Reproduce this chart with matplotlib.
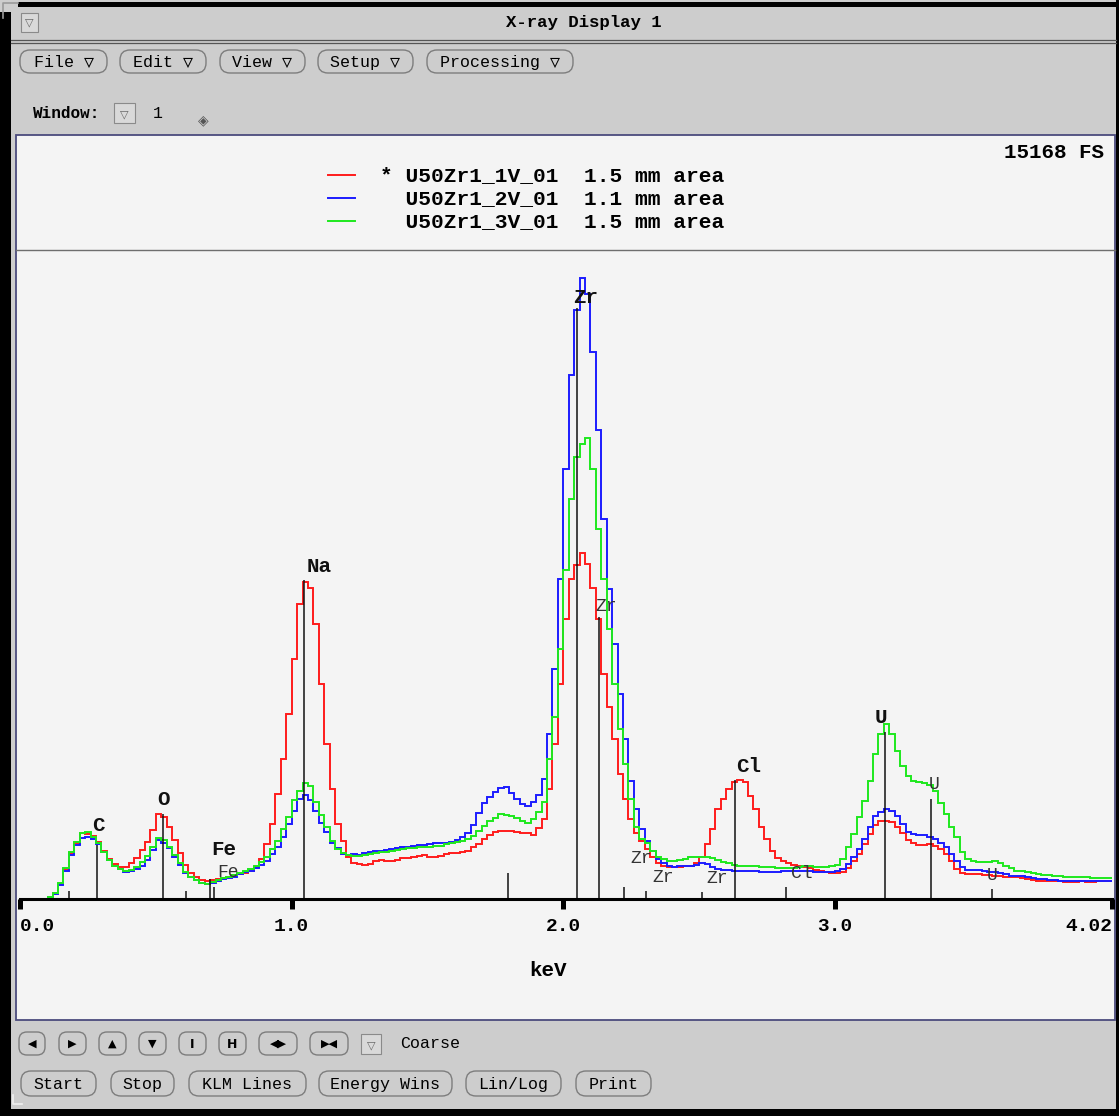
import numpy as np
import matplotlib.pyplot as plt
from matplotlib.patches import Rectangle, FancyBboxPatch

# spectra: counts per 0.02 keV channel, first channel starts at 0.10 keV
e_start = 0.10
e_step = 0.02
red = [50, 140, 350, 700, 1070, 1310, 1540, 1520, 1470, 1330,
       1120, 930, 820, 750, 750, 840, 960, 1140, 1330, 1610,
       1980, 1910, 1680, 1380, 1070, 790, 610, 510, 440, 420,
       440, 470, 490, 510, 560, 580, 610, 650, 750, 930,
       1280, 1750, 2450, 3270, 4320, 5600, 6890, 7420, 7280, 6420,
       5020, 3620, 2570, 1750, 1350, 980, 840, 820, 790, 820,
       890, 910, 890, 890, 910, 960, 960, 980, 1000, 1030,
       980, 980, 1000, 1050, 1070, 1070, 1100, 1120, 1210, 1280,
       1400, 1490, 1560, 1590, 1590, 1590, 1560, 1540, 1540, 1490,
       1660, 1870, 2570, 3620, 5020, 6540, 7470, 7800, 8080, 7820,
       7280, 6540, 5250, 4480, 3730, 2920, 2330, 1870, 1540, 1350,
       1170, 980, 840, 770, 750, 750, 750, 770, 770, 840,
       980, 1280, 1630, 2100, 2330, 2570, 2730, 2780, 2730, 2400,
       2100, 1680, 1400, 1120, 960, 890, 840, 790, 770, 750,
       720, 680, 650, 630, 610, 610, 630, 720, 890, 1050,
       1280, 1520, 1730, 1820, 1820, 1800, 1680, 1540, 1380, 1310,
       1260, 1260, 1280, 1240, 1170, 1050, 890, 700, 610, 580,
       580, 580, 560, 560, 540, 540, 510, 510, 510, 490,
       470, 440, 420, 420, 420, 420, 420, 400, 400, 400,
       420, 400, 400, 420, 420, 420]
blue = [50, 120, 330, 650, 1030, 1260, 1420, 1450, 1400, 1280,
        1100, 910, 770, 700, 630, 650, 700, 770, 910, 1140,
        1380, 1310, 1190, 980, 790, 610, 510, 440, 370, 350,
        370, 420, 470, 490, 510, 580, 630, 650, 720, 790,
        890, 1050, 1210, 1450, 1750, 2050, 2330, 2430, 2310, 2050,
        1770, 1560, 1310, 1190, 1050, 1030, 1050, 1030, 1070, 1100,
        1120, 1120, 1140, 1170, 1190, 1210, 1210, 1240, 1260, 1260,
        1280, 1310, 1310, 1310, 1330, 1380, 1450, 1540, 1730, 2010,
        2240, 2380, 2500, 2590, 2610, 2470, 2330, 2220, 2170, 2260,
        2430, 2800, 3850, 5370, 7470, 10040, 12250, 13770, 14520, 14140,
        12790, 10970, 8870, 7240, 5950, 4780, 3730, 2750, 2100, 1630,
        1350, 1120, 930, 840, 770, 750, 770, 770, 770, 790,
        840, 820, 750, 700, 680, 680, 650, 650, 650, 650,
        650, 630, 630, 630, 630, 650, 650, 650, 650, 650,
        650, 630, 630, 630, 630, 650, 700, 820, 980, 1170,
        1400, 1680, 1940, 2030, 2100, 2050, 1940, 1750, 1560, 1520,
        1490, 1490, 1450, 1400, 1310, 1210, 1050, 890, 750, 680,
        680, 680, 650, 630, 630, 610, 580, 540, 540, 540,
        510, 490, 470, 470, 440, 440, 420, 420, 420, 420,
        420, 420, 420, 420, 420, 420]
green = [50, 140, 370, 720, 1100, 1330, 1540, 1560, 1450, 1310,
         1100, 910, 770, 700, 650, 680, 750, 860, 1000, 1210,
         1420, 1380, 1210, 1030, 840, 630, 510, 440, 370, 350,
         400, 440, 490, 510, 560, 610, 650, 700, 770, 860,
         980, 1170, 1350, 1630, 1910, 2310, 2520, 2710, 2640, 2260,
         1960, 1680, 1350, 1170, 1070, 1030, 1000, 1000, 1030, 1050,
         1070, 1100, 1100, 1120, 1140, 1170, 1190, 1190, 1210, 1210,
         1210, 1240, 1240, 1280, 1310, 1330, 1350, 1400, 1470, 1590,
         1700, 1820, 1890, 1980, 1960, 1940, 1890, 1820, 1770, 1870,
         2030, 2260, 3270, 4250, 5840, 7700, 9340, 10320, 10640, 10780,
         10040, 8640, 7470, 6300, 5020, 3970, 3150, 2330, 1680, 1400,
         1310, 1120, 980, 930, 890, 890, 910, 930, 980, 980,
         980, 980, 960, 910, 860, 840, 790, 770, 770, 770,
         770, 750, 750, 750, 720, 720, 720, 720, 750, 770,
         770, 750, 750, 750, 770, 790, 930, 1210, 1520, 1910,
         2290, 2750, 3380, 3850, 4080, 3850, 3450, 3100, 2870, 2750,
         2730, 2710, 2660, 2520, 2240, 1980, 1680, 1450, 1100, 930,
         890, 860, 860, 860, 890, 840, 770, 720, 650, 650,
         630, 610, 580, 560, 560, 540, 540, 510, 510, 510,
         510, 510, 490, 490, 490, 490]
names = ["* U50Zr1_1V_01  1.5 mm area",
         "  U50Zr1_2V_01  1.1 mm area",
         "  U50Zr1_3V_01  1.5 mm area"]
full_scale = 15168
e_max = 4.02
tick_pos = [0.0, 1.0, 2.0, 3.0, 4.02]
tick_lab = ["0.0", "1.0", "2.0", "3.0", "4.02"]

# KLM marker lines: energy (keV), marker height (counts), label
klm_e = [0.18, 0.283, 0.526, 0.61, 0.70, 0.715, 1.046, 1.797, 2.052, 2.13,
         2.225, 2.305, 2.51, 2.632, 2.82, 3.185, 3.355, 3.58]
klm_h = [190, 1260, 1980, 190, 470, 280, 7450, 610, 13820, 6580,
         280, 190, 160, 2780, 280, 3900, 2330, 230]
klm_lab = ["", "C", "O", "", "Fe", "Fe", "Na", "", "Zr", "Zr",
           "Zr", "Zr", "Zr", "Cl", "Cl", "U", "U", "U"]
# label style: (bold, dx px, dy px above line top)
lab_style = [None, (1, 2, 20), (1, 1, 15), None, (1, 14, 29), (0, 14, 15),
             (1, 15, 14), None, (1, 8, 10), (0, 8, 11), (0, 17, 29), (0, 17, 13),
             (0, 15, 14), (1, 14, 14), (0, 16, 14), (1, -4, 15), (0, 3, 15), (0, 0, 14)]

colors = ["#ff1c1c", "#1c1cff", "#1ee81e"]
mono = ["Liberation Mono", "DejaVu Sans Mono"]
bg = "#cdcdcd"

fig = plt.figure(figsize=(11.19, 11.16), dpi=100, facecolor=bg)
W, H = 1119, 1116

# window chrome in pixel coordinates
ui = fig.add_axes([0, 0, 1, 1], zorder=0)
ui.set_xlim(0, W)
ui.set_ylim(H, 0)
ui.axis("off")

ui.add_patch(Rectangle((0, 12), 11, H - 12, fc="black", ec="none"))
ui.add_patch(Rectangle((18, 2), W - 18, 5, fc="black", ec="none"))
ui.add_patch(Rectangle((W - 3, 0), 3, H, fc="black", ec="none"))
ui.add_patch(Rectangle((0, H - 7), W, 7, fc="black", ec="none"))
ui.plot([3, 3, 18], [18, 3, 3], color="#9a9a9a", lw=1.2)
ui.plot([13, 13, 22], [1095, 1104, 1104], color="#f0f0f0", lw=1.2)

ui.plot([11, W - 3], [40, 40], color="#555555", lw=0.9)
ui.plot([11, W - 3], [43, 43], color="#555555", lw=0.9)
ui.add_patch(Rectangle((21, 13), 17, 19, fc="#d9d9d9", ec="#8a8a8a", lw=0.8))
ui.text(29.5, 22.5, "▽", ha="center", va="center", fontsize=8, color="#666666",
        family=["DejaVu Sans"])
ui.text(584, 22, "X-ray Display 1", ha="center", va="center", fontsize=12.5,
        fontweight="bold", family=mono)


def pill(x0, x1, y0, y1, text, fs=12):
    ui.add_patch(FancyBboxPatch((x0, y0), x1 - x0, y1 - y0,
                                boxstyle="round,pad=0,rounding_size=10",
                                fc=bg, ec="#7d7d7d", lw=1.0))
    ui.text((x0 + x1) / 2, (y0 + y1) / 2 + 1, text, ha="center", va="center",
            fontsize=fs, family=mono)


def dropbox(x0, y0, w, h):
    ui.add_patch(Rectangle((x0, y0), w, h, fc="#d9d9d9", ec="#8a8a8a", lw=0.8))
    ui.text(x0 + w / 2, y0 + h / 2 + 1, "▽", ha="center", va="center",
            fontsize=8, color="#666666", family=["DejaVu Sans"])


for lab, x0, x1 in [("File ▽", 20, 107), ("Edit ▽", 120, 206), ("View ▽", 220, 305),
                    ("Setup ▽", 318, 413), ("Processing ▽", 427, 573)]:
    pill(x0, x1, 50, 73, lab)

ui.text(33, 113, "Window:", ha="left", va="center", fontsize=11.5,
        fontweight="bold", family=mono)
dropbox(114, 103, 21, 20)
ui.text(153, 113, "1", ha="left", va="center", fontsize=12, family=mono)
ui.text(203, 120, "◈", ha="center", va="center", fontsize=10, color="#555555",
        family=["DejaVu Sans"])

# plot panel
ui.add_patch(Rectangle((16, 135), 1099, 885, fc="#f4f4f4", ec="#4b4b7d", lw=1.3))
ui.plot([16, 1115], [250, 250], color="#6e6e6e", lw=1.0)

for i, (c, name) in enumerate(zip(colors, names)):
    y = 175 + 23 * i
    ui.plot([328, 355], [y, y], color=c, lw=1.4)
    ui.text(380, y + 1, name, ha="left", va="center", fontsize=15.3,
            fontweight="bold", family=mono)
ui.text(1104, 153, f"{full_scale} FS", ha="right", va="center", fontsize=15,
        fontweight="bold", family=mono)

# bottom controls
for glyph, x0, x1 in [("◀", 19, 45), ("▶", 59, 86), ("▲", 99, 126), ("▼", 139, 166),
                      ("I", 179, 206), ("H", 219, 246), ("◀▶", 259, 297), ("▶◀", 310, 348)]:
    ui.add_patch(FancyBboxPatch((x0, 1032), x1 - x0, 23,
                                boxstyle="round,pad=0,rounding_size=8",
                                fc=bg, ec="#7d7d7d", lw=1.0))
    ui.text((x0 + x1) / 2, 1044, glyph, ha="center", va="center",
            fontsize=8 if glyph not in ("I", "H") else 9, fontweight="bold",
            family=["DejaVu Sans"])
dropbox(361, 1034, 20, 20)
ui.text(400, 1044, "Coarse", ha="left", va="center", fontsize=12, family=mono)

for lab, x0, x1 in [("Start", 21, 96), ("Stop", 111, 174), ("KLM Lines", 189, 306),
                    ("Energy Wins", 319, 452), ("Lin/Log", 466, 561), ("Print", 576, 651)]:
    pill(x0, x1, 1071, 1096, lab)

# spectrum axes: x 0..4.02 keV from px 20 to 1112, counts 0..FS from baseline 899 up to 250
ax = fig.add_axes([20 / W, (H - 899) / H, 1092 / W, 649 / H], zorder=1)
ax.patch.set_alpha(0)
ax.set_xlim(0, e_max)
ax.set_ylim(0, full_scale)

for vals, c in zip([red, blue, green], colors):
    edges = e_start + e_step * np.arange(len(vals) + 1)
    ax.stairs(vals, edges, baseline=None, color=c, lw=1.4)

ax.vlines(klm_e, 0, klm_h, color="#111111", lw=1.1)
for e, h, lab, st in zip(klm_e, klm_h, klm_lab, lab_style):
    if not lab:
        continue
    bold, dx, dy = st
    ax.annotate(lab, (e, h), xytext=(dx * 0.72, dy * 0.72), textcoords="offset points",
                ha="center", va="center", fontsize=15 if bold else 13,
                fontweight="bold" if bold else "normal",
                color="#111111" if bold else "#333333", family=mono)

for s in ["left", "right", "top"]:
    ax.spines[s].set_visible(False)
ax.spines["bottom"].set_linewidth(2.2)
ax.set_yticks([])
ax.set_xticks(tick_pos, tick_lab)
ax.tick_params(axis="x", direction="out", length=7, width=3.6, pad=7, labelsize=14)
for t in ax.get_xticklabels():
    t.set_fontweight("bold")
    t.set_family(mono)
ax.get_xticklabels()[0].set_ha("left")
ax.get_xticklabels()[-1].set_ha("right")
ax.set_xlabel("keV", fontsize=15, fontweight="bold", family=mono)
ax.xaxis.set_label_coords((548 - 20) / 1092, -(970 - 899) / 649)
ax.xaxis.label.set_va("center")

fig.savefig("out.png", dpi=100, facecolor=bg)
